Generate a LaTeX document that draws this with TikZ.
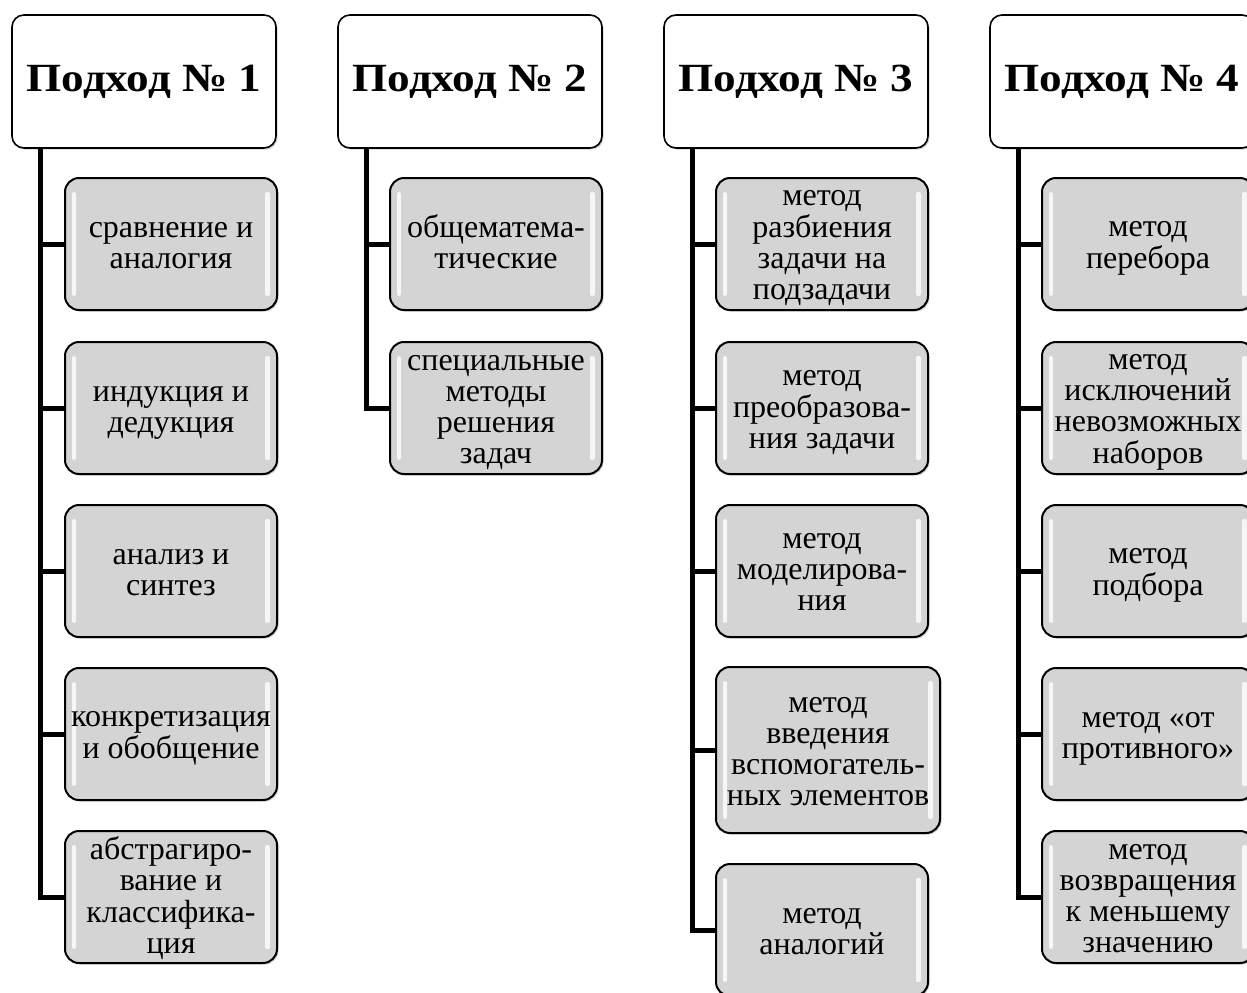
\documentclass[tikz,border=0pt]{standalone}
\usepackage{fontspec}
\setmainfont{Liberation Serif}
\newfontfamily\hdrfont{Liberation Serif}[FakeStretch=1.13]
\usetikzlibrary{shadows}
\newcommand{\boxtext}[1]{\vbox{\kern2.5pt\hbox{\begin{tabular}{@{}c@{}}#1\end{tabular}}}}
\tikzset{
  hdr/.style={draw, line width=0.8pt, fill=white, rounded corners=6pt,
    minimum width=132pt, minimum height=66.5pt, inner sep=1pt,
    font=\hdrfont\bfseries\fontsize{20pt}{24pt}\selectfont,
    drop shadow={opacity=0.35, shadow xshift=0.8pt, shadow yshift=-0.8pt}},
  item/.style={draw, line width=1pt, fill=black!17, rounded corners=7pt,
    minimum width=106pt, minimum height=66pt, inner xsep=1pt, inner ysep=0pt,
    font=\fontsize{16pt}{15.5pt}\selectfont,
    drop shadow={opacity=0.35, shadow xshift=0.8pt, shadow yshift=-0.8pt},
    path picture={
      \fill[white, opacity=0.8, rounded corners=1pt]
        ([xshift=3.5pt, yshift=-7pt]path picture bounding box.north west) rectangle
        ([xshift=5.5pt, yshift=7pt]path picture bounding box.south west);
      \fill[white, opacity=0.8, rounded corners=1pt]
        ([xshift=-3.5pt, yshift=-7pt]path picture bounding box.north east) rectangle
        ([xshift=-6pt, yshift=7pt]path picture bounding box.south east);
    }},
  conn/.style={line width=2.5pt}
}
\begin{document}
\begin{tikzpicture}[x=0.5pt, y=-0.5pt]
\useasboundingbox (0,0) rectangle (1247,992);
\clip (0,0) rectangle (1247,992);
% headers
\node[hdr] (h1) at (144,81.5) {Подход № 1};
\node[hdr] (h2) at (470,81.5) {Подход № 2};
\node[hdr] (h3) at (796,81.5) {Подход № 3};
\node[hdr] (h4) at (1122,81.5) {Подход № 4};
% column 1
\node[item] (a1) at (171,244) {\boxtext{сравнение и\\аналогия}};
\node[item] (a2) at (171,408) {\boxtext{индукция и\\дедукция}};
\node[item] (a3) at (171,571) {\boxtext{анализ и\\синтез}};
\node[item] (a4) at (171,734) {\boxtext{конкретизация\\и обобщение}};
\node[item] (a5) at (171,897) {\boxtext{абстрагиро-\\вание и\\классифика-\\ция}};
% column 2
\node[item] (b1) at (496,244) {\boxtext{общематема-\\тические}};
\node[item] (b2) at (496,408) {\boxtext{специальные\\методы\\решения\\задач}};
% column 3
\node[item] (c1) at (822,244) {\boxtext{метод\\разбиения\\задачи на\\подзадачи}};
\node[item] (c2) at (822,408) {\boxtext{метод\\преобразова-\\ния задачи}};
\node[item] (c3) at (822,571) {\boxtext{метод\\моделирова-\\ния}};
\node[item, minimum width=112pt, minimum height=83pt] (c4) at (828,750) {\boxtext{метод\\введения\\вспомогатель-\\ных элементов}};
\node[item] (c5) at (822,930) {\boxtext{метод\\аналогий}};
% column 4
\node[item] (d1) at (1148,244) {\boxtext{метод\\перебора}};
\node[item] (d2) at (1148,408) {\boxtext{метод\\исключений\\невозможных\\наборов}};
\node[item] (d3) at (1148,571) {\boxtext{метод\\подбора}};
\node[item] (d4) at (1148,734) {\boxtext{метод «от\\противного»}};
\node[item] (d5) at (1148,897) {\boxtext{метод\\возвращения\\к меньшему\\значению}};
% connectors
\coordinate (v1) at (40,148);
\coordinate (v2) at (366,148);
\coordinate (v3) at (692,148);
\coordinate (v4) at (1018,148);
\draw[conn] (v1) |- (a5.west);
\foreach \n in {a1,a2,a3,a4} \draw[conn] (v1 |- \n.west) -- (\n.west);
\draw[conn] (v2) |- (b2.west);
\draw[conn] (v2 |- b1.west) -- (b1.west);
\draw[conn] (v3) |- (c5.west);
\foreach \n in {c1,c2,c3,c4} \draw[conn] (v3 |- \n.west) -- (\n.west);
\draw[conn] (v4) |- (d5.west);
\foreach \n in {d1,d2,d3,d4} \draw[conn] (v4 |- \n.west) -- (\n.west);
\end{tikzpicture}
\end{document}
